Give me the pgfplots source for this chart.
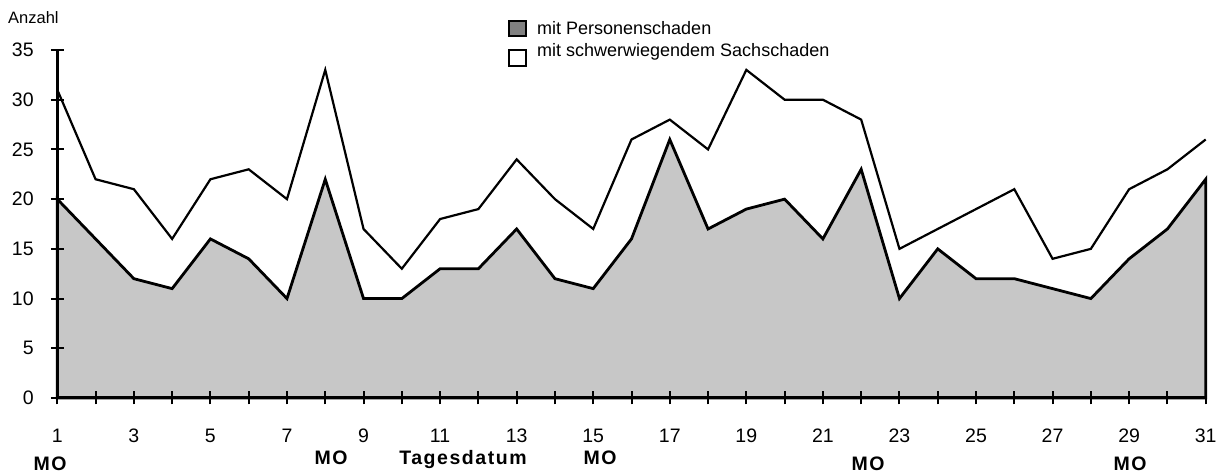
\documentclass[border=0pt]{standalone}
\usepackage{fontspec}
\setmainfont{Liberation Sans}
\usepackage{pgfplots}
\pgfplotsset{compat=1.18}
\newcommand{\molab}{\fontsize{19.5}{22}\selectfont\bfseries\addfontfeature{LetterSpace=8}}
\begin{document}
\begin{tikzpicture}[x=1pt,y=1pt]
\useasboundingbox (0,0) rectangle (1219,474);
\begin{axis}[
  at={(57.3pt,76pt)}, anchor=south west,
  scale only axis, width=1148.4pt, height=348pt,
  xmin=1, xmax=31, ymin=0, ymax=35,
  axis x line*=bottom, axis y line*=left,
  axis line style={line width=3pt, black},
  axis on top,
  xtick={1,...,31},
  xticklabels={1,,3,,5,,7,,9,,11,,13,,15,,17,,19,,21,,23,,25,,27,,29,,31},
  ytick={0,5,...,35},
  tick align=center, major tick length=13pt,
  major tick style={black, line width=2pt},
  /pgf/number format/assume math mode=true,
  every tick label/.append style={font=\fontsize{19.5}{22}\selectfont},
  xticklabel style={anchor=north, inner sep=0pt, yshift=-24pt},
  yticklabel style={anchor=east, inner sep=0pt, xshift=-17pt},
  clip=false,
]
\addplot[draw=black, line width=2.8pt, fill=black!22] coordinates {
(1,20) (2,16) (3,12) (4,11) (5,16) (6,14) (7,10) (8,22) (9,10) (10,10)
(11,13) (12,13) (13,17) (14,12) (15,11) (16,16) (17,26) (18,17) (19,19) (20,20)
(21,16) (22,23) (23,10) (24,15) (25,12) (26,12) (27,11) (28,10) (29,14) (30,17) (31,22)
} \closedcycle;
\addplot[draw=black, line width=2.2pt] coordinates {
(1,31) (2,22) (3,21) (4,16) (5,22) (6,23) (7,20) (8,33) (9,17) (10,13)
(11,18) (12,19) (13,24) (14,20) (15,17) (16,26) (17,28) (18,25) (19,33) (20,30)
(21,30) (22,28) (23,15) (24,17) (25,19) (26,21) (27,14) (28,15) (29,21) (30,23) (31,26)
};
\end{axis}
% axis title
\node[anchor=base west, inner sep=0pt, font=\fontsize{16.5}{18}\selectfont] at (8,450) {Anzahl};
% legend
\draw[line width=1.5pt, fill=black!50] (509,438) rectangle (526,453);
\draw[line width=1.5pt, fill=white] (509,408) rectangle (526,424);
\node[anchor=base west, inner sep=0pt, font=\fontsize{18}{20}\selectfont] at (537,439) {mit Personenschaden};
\node[anchor=base west, inner sep=0pt, font=\fontsize{18}{20}\selectfont] at (537,417) {mit schwerwiegendem Sachschaden};
% bottom labels
\node[anchor=base, inner sep=0pt, font=\molab] at (50,3) {MO};
\node[anchor=base, inner sep=0pt, font=\molab] at (331,9) {MO};
\node[anchor=base, inner sep=0pt, font=\molab] at (463,9) {Tagesdatum};
\node[anchor=base, inner sep=0pt, font=\molab] at (600,9) {MO};
\node[anchor=base, inner sep=0pt, font=\molab] at (868,3) {MO};
\node[anchor=base, inner sep=0pt, font=\molab] at (1130,3) {MO};
\end{tikzpicture}
\end{document}
